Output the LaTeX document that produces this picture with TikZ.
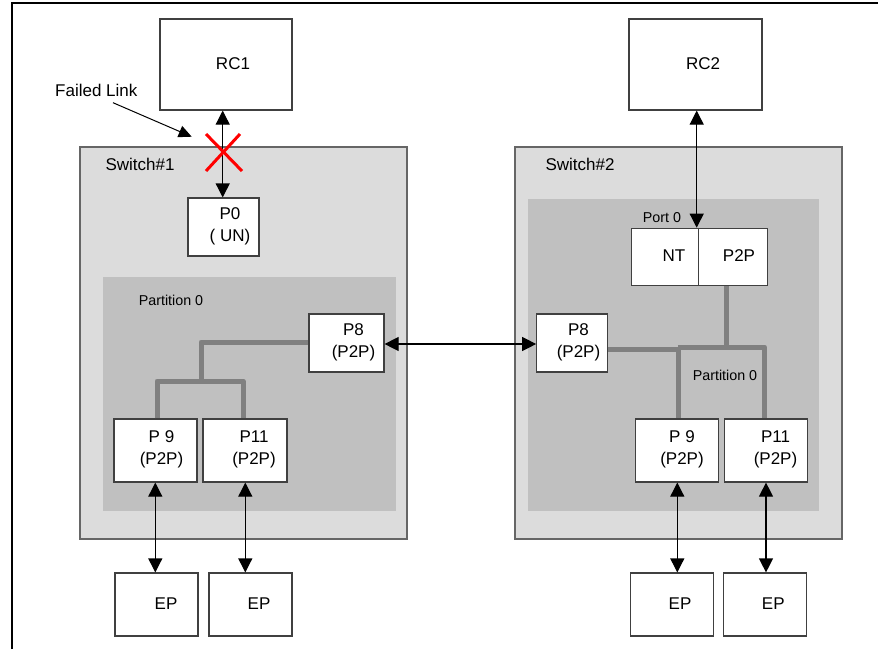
\documentclass[tikz,border=0pt]{standalone}
\usepackage{fontspec}
\setmainfont{Liberation Sans}
\usetikzlibrary{arrows.meta}
\definecolor{swfill}{HTML}{DCDCDC}
\definecolor{partfill}{HTML}{C0C0C0}
\definecolor{treec}{HTML}{808080}
\definecolor{edgec}{HTML}{404040}
\begin{document}
\begin{tikzpicture}[x=1pt,y=-1pt,
  every node/.style={font=\fontsize{17}{22}\selectfont},
  small/.style={font=\fontsize{14.3}{17}\selectfont},
  box/.style={draw=edgec, fill=white, line width=1.2pt, inner sep=0pt},
  switchbox/.style={draw=edgec!80, fill=swfill, line width=1.2pt},
  partbox/.style={fill=partfill},
  tree/.style={draw=treec, line width=5pt, line join=round},
  link/.style={draw=black, line width=1.2pt, {Triangle[length=14pt,width=14pt]}-{Triangle[length=14pt,width=14pt]}},
  txt/.style={inner sep=0pt, align=center}
]
\useasboundingbox (0,0) rectangle (878,649);
% frame
\draw[line width=2pt] (12,649) -- (12,3) -- (878,3);

% switches
\draw[switchbox] (80,147) rectangle (407,539);
\draw[switchbox] (515,147) rectangle (842,539);
\fill[partbox] (103,277) rectangle (396,511);
\fill[partbox] (528,199) rectangle (819,511);
\node[txt] (sw1t) at (140,164) {Switch\#1};
\node[txt] (sw2t) at (580,164) {Switch\#2};
\node[txt,small] (pa1) at (171,300) {Partition 0};
\node[txt,small] (pa2) at (725,375) {Partition 0};
\node[txt,small] (port0) at (662,218) {Port 0};

% boxes
\node[box, minimum width=132pt, minimum height=91pt] (rc1) at (226,64.5) {};
\node[txt] (rc1t) at (233,64) {RC1};
\node[box, minimum width=133pt, minimum height=91pt] (rc2) at (695.5,64.5) {};
\node[txt] (rc2t) at (703,64) {RC2};

\node[box, minimum width=71pt, minimum height=58pt] (p0) at (223.5,227) {};
\node[txt] (p0t) at (230,226.5) {P0\\( UN)};

% left partition boxes
\node[box, minimum width=75pt, minimum height=58pt] (lp8) at (346.5,343) {};
\node[txt] (lp8t) at (353.5,342.5) {P8\\(P2P)};
\node[box, minimum width=83pt, minimum height=63pt] (lp9) at (155.5,450.5) {};
\node[txt] (lp9t) at (161.5,449) {P 9\\(P2P)};
\node[box, minimum width=84pt, minimum height=63pt] (lp11) at (245,450.5) {};
\node[txt] (lp11t) at (254,449) {P11\\(P2P)};

% right boxes
\node[box, minimum width=135.5pt, minimum height=57.5pt] (port) at (699.5,257) {};
\draw[edgec, line width=1.2pt] (698.3,228.2) -- (698.3,285.8);
\node[txt] (ntt) at (674,256) {NT};
\node[txt] (p2pt) at (739,256) {P2P};
\node[box, minimum width=70.5pt, minimum height=58pt] (rp8) at (572,343) {};
\node[txt] (rp8t) at (578.5,342.5) {P8\\(P2P)};
\node[box, minimum width=83pt, minimum height=63pt] (rp9) at (676.8,450.5) {};
\node[txt] (rp9t) at (682,449) {P 9\\(P2P)};
\node[box, minimum width=83pt, minimum height=63pt] (rp11) at (766.3,450.5) {};
\node[txt] (rp11t) at (775.5,449) {P11\\(P2P)};

% EPs
\node[box, minimum width=83pt, minimum height=63pt] (ep1) at (156.5,604.5) {};
\node[txt] (ep1t) at (166,604) {EP};
\node[box, minimum width=83pt, minimum height=63pt] (ep2) at (250.5,604.5) {};
\node[txt] (ep2t) at (259,604) {EP};
\node[box, minimum width=83pt, minimum height=63pt] (ep3) at (671.7,604.5) {};
\node[txt] (ep3t) at (680,604) {EP};
\node[box, minimum width=83pt, minimum height=63pt] (ep4) at (765.2,604.5) {};
\node[txt] (ep4t) at (773.3,604) {EP};

% gray trees (left)
\draw[tree] (lp8.west |- 0,342) -- (201,342) -- (201,381);
\draw[tree] (lp9.north -| 157,0) -- (157,381) -- (243,381) -- (lp11.north -| 243,0);
% gray trees (right)
\draw[tree] (rp8.east |- 0,349) -- (678,349) -- (rp9.north -| 678,0);
\draw[tree] (678,347) -- (764.5,347) -- (rp11.north -| 764.5,0);
\draw[tree] (port.south -| 726.7,0) -- (726.7,347);

% links
\draw[link] (rc1.south -| 222.7,0) -- (p0.north -| 222.7,0);
\draw[link] (rc2.south -| 696.7,0) -- (port.north -| 696.7,0);
\draw[link] (lp8.east |- 0,344) -- (rp8.west |- 0,344);
\draw[link] (lp9.south -| 155.3,0) -- (ep1.north -| 155.3,0);
\draw[link] (lp11.south -| 245.3,0) -- (ep2.north -| 245.3,0);
\draw[link] (rp9.south -| 677.3,0) -- (ep3.north -| 677.3,0);
\draw[link] (rp11.south -| 766,0) -- (ep4.north -| 766,0);

% failed link
\node[txt] (fl) at (96.3,90) {Failed Link};
\coordinate (flA) at (113,102.7);
\coordinate (flB) at (191.7,136.7);
\draw[line width=1pt, -{Triangle[length=13pt,width=12pt]}] (flA) -- (flB);
\draw[red, line width=3pt] (206,134) -- (242,171);
\draw[red, line width=3pt] (240,134) -- (206,171);
\end{tikzpicture}
\end{document}
